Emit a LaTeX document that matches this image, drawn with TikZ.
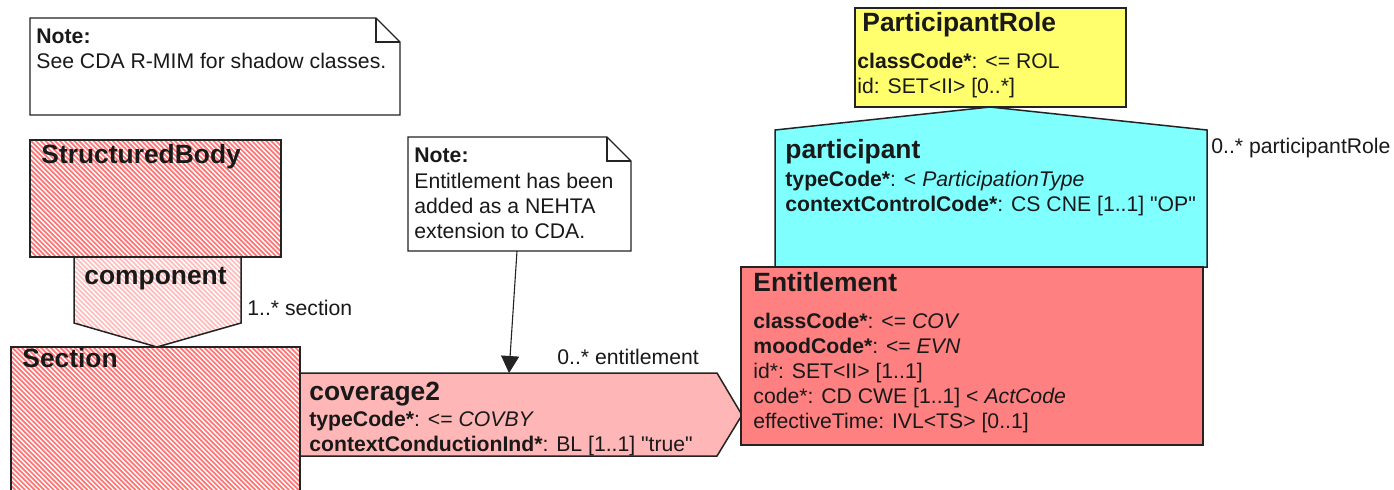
\documentclass[tikz,border=0pt]{standalone}
\usepackage{fontspec}
\setmainfont{Liberation Sans}[Ligatures=TeXOff]
\usepackage{tikz}
\usetikzlibrary{arrows.meta,patterns}
\usepackage{xcolor}
\definecolor{rimred}{RGB}{255,128,128}
\definecolor{rimpink}{RGB}{255,182,182}
\definecolor{rimcyan}{RGB}{128,255,255}
\definecolor{rimyellow}{RGB}{255,255,110}
\definecolor{hatchred}{RGB}{255,118,118}
\definecolor{hatchpink}{RGB}{255,190,190}
\definecolor{edgegrey}{RGB}{35,35,35}
\definecolor{inkgrey}{RGB}{25,25,25}
% dense diagonal hatch for the shadow classes
\pgfdeclarepatternformonly{densehatch}{\pgfqpoint{-1pt}{-1pt}}{\pgfqpoint{3.4pt}{3.4pt}}{\pgfqpoint{2.4pt}{2.4pt}}%
{
  \pgfsetlinewidth{0.85pt}
  \pgfpathmoveto{\pgfqpoint{0pt}{2.4pt}}
  \pgfpathlineto{\pgfqpoint{2.5pt}{-0.1pt}}
  \pgfusepath{stroke}
}

\begin{document}
\begin{tikzpicture}[x=0.5pt, y=-0.5pt,
    shadowcls/.style={draw=edgegrey, line width=0.75pt, pattern=densehatch, pattern color=hatchred},
    shadowrel/.style={draw=edgegrey, line width=0.75pt, pattern=densehatch, pattern color=hatchpink},
    cls/.style={draw=edgegrey, line width=0.75pt},
    notebox/.style={draw=edgegrey, line width=0.6pt, fill=white},
    title/.style={anchor=base west, inner sep=0pt, text=inkgrey,
                  font=\fontsize{13.2}{15}\selectfont\bfseries},
    attr/.style={anchor=base west, inner sep=0pt, text=inkgrey,
                 font=\fontsize{10.6}{12.5}\selectfont}]
\useasboundingbox[fill=white] (0,0) rectangle (1394,489);
% note top left
\draw[notebox] (30,18) -- (376,18) -- (400,42) -- (400,115) -- (30,115) -- cycle;
\draw[notebox, fill=none] (376,18) -- (376,42) -- (400,42);
\node[attr] (n1a) at (36,43) {\textbf{Note:}};
\node[attr] (n1b) at (36,68) {See CDA R-MIM for shadow classes.};
% StructuredBody -> component -> Section
\draw[shadowcls] (30,140) rectangle (281,257);
\node[title] (sb) at (41,163) {StructuredBody};
\draw[shadowrel] (74,257) -- (241,257) -- (241,323) -- (157,347) -- (74,323) -- cycle;
\node[title] (comp) at (84,284) {component};
\node[attr] (comprole) at (247,315) {1..* section};
\draw[shadowcls] (11,500) -- (11,347) -- (300,347) -- (300,500);
\node[title] (sec) at (22,367) {Section};
% coverage2
\draw[cls, fill=rimpink] (300,373) -- (717,373) -- (742,415) -- (717,456) -- (300,456) -- cycle;
\node[title] (cov) at (309,400) {coverage2};
\node[attr] (cova) at (309,426) {\textbf{typeCode*}: <= \textit{COVBY}};
\node[attr] (covb) at (309,451) {\textbf{contextConductionInd*}: BL [1..1] "true"};
\node[attr] (covrole) at (557,364) {0..* entitlement};
% note on Entitlement
\draw[notebox] (408,137) -- (607,137) -- (631,161) -- (631,251) -- (408,251) -- cycle;
\draw[notebox, fill=none] (607,137) -- (607,161) -- (631,161);
\node[attr] (n2a) at (414,162) {\textbf{Note:}};
\node[attr] (n2b) at (414,188) {Entitlement has been};
\node[attr] (n2c) at (414,213) {added as a NEHTA};
\node[attr] (n2d) at (414,238) {extension to CDA.};
\coordinate (n2foot) at (517,251);
\coordinate (covtop) at (509,373);
\draw[-{Triangle[width=9pt,length=8.5pt]}, line width=0.55pt, edgegrey] (n2foot) -- (covtop);
% ParticipantRole
\draw[cls, fill=rimyellow] (855,8) rectangle (1126,107);
\node[title] (pr) at (862,31) {ParticipantRole};
\node[attr] (pra) at (857,68) {\textbf{classCode*}: <= ROL};
\node[attr] (prb) at (857,93) {id: SET<II> [0..*]};
% participant
\draw[cls, fill=rimcyan] (775,130) -- (990,107) -- (1207,130) -- (1207,267) -- (775,267) -- cycle;
\node[title] (part) at (785,158) {participant};
\node[attr] (parta) at (785,186) {\textbf{typeCode*}: < \textit{ParticipationType}};
\node[attr] (partb) at (785,211) {\textbf{contextControlCode*}: CS CNE [1..1] "OP"};
\node[attr] (partrole) at (1211,153) {0..* participantRole};
% Entitlement
\draw[cls, fill=rimred] (741,267) rectangle (1203,445);
\node[title] (ent) at (753,291) {Entitlement};
\node[attr] (enta) at (753,328) {\textbf{classCode*}: <= \textit{COV}};
\node[attr] (entb) at (753,353) {\textbf{moodCode*}: <= \textit{EVN}};
\node[attr] (entc) at (753,378) {id*: SET<II> [1..1]};
\node[attr] (entd) at (753,403) {code*: CD CWE [1..1] < \textit{ActCode}};
\node[attr] (ente) at (753,428) {effectiveTime: IVL<TS> [0..1]};
\end{tikzpicture}
\end{document}
